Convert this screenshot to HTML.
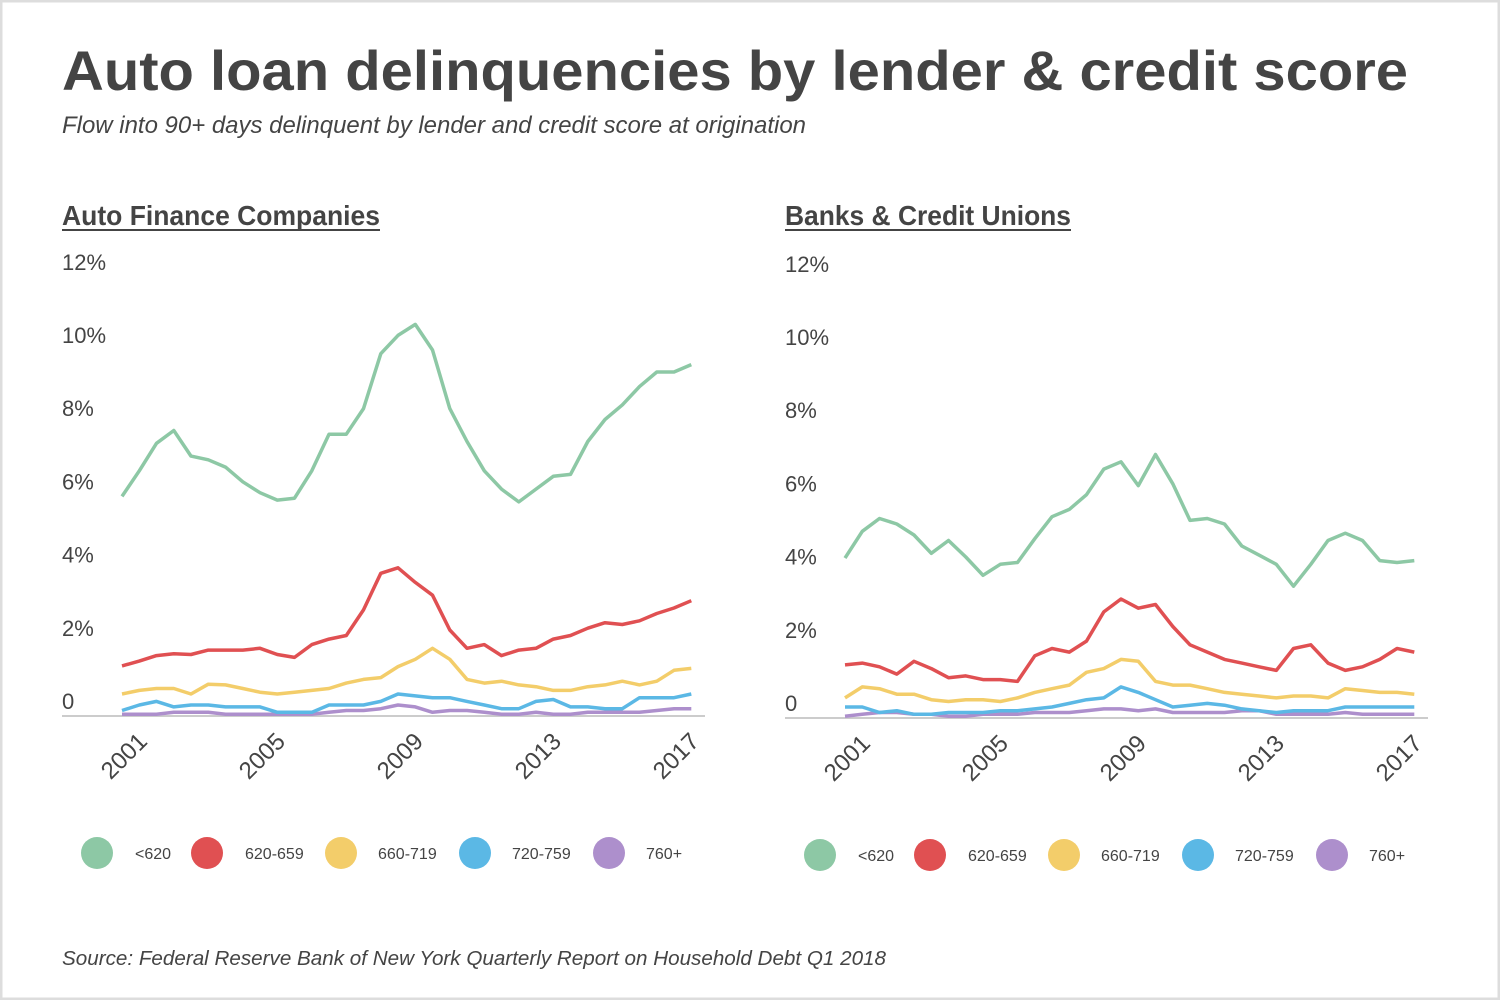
<!DOCTYPE html>
<html><head><meta charset="utf-8"><style>
html,body{margin:0;padding:0;background:#fff}
svg{display:block;font-family:"Liberation Sans",sans-serif}
</style></head><body>
<svg id="s" width="1500" height="1000" viewBox="0 0 1500 1000">
<rect x="1" y="1" width="1498" height="998" fill="#fff" stroke="#ddd" stroke-width="3"/>
<text x="62" y="90" font-size="56" font-weight="bold" fill="#444" textLength="1346" lengthAdjust="spacingAndGlyphs">Auto loan delinquencies by lender &amp; credit score</text>
<text x="62" y="133" font-size="24" font-style="italic" fill="#444" textLength="744" lengthAdjust="spacingAndGlyphs">Flow into 90+ days delinquent by lender and credit score at origination</text>
<text x="62" y="965" font-size="20" font-style="italic" fill="#444" textLength="824" lengthAdjust="spacingAndGlyphs">Source: Federal Reserve Bank of New York Quarterly Report on Household Debt Q1 2018</text>
</svg>
<script>
const years=[2001,2001.5,2002,2002.5,2003,2003.5,2004,2004.5,2005,2005.5,2006,2006.5,2007,2007.5,2008,2008.5,2009,2009.5,2010,2010.5,2011,2011.5,2012,2012.5,2013,2013.5,2014,2014.5,2015,2015.5,2016,2016.5,2017,2017.5];
const seriesNames=["<620","620-659","660-719","720-759","760+"];
const yTicks=[0,2,4,6,8,10,12];
const yTickLabels=["0","2%","4%","6%","8%","10%","12%"];
const xTicks=[2001,2005,2009,2013,2017];
const afcLow=[6.0,6.7,7.45,7.8,7.1,7.0,6.8,6.4,6.1,5.9,5.95,6.7,7.7,7.7,8.4,9.9,10.4,10.7,10.0,8.4,7.5,6.7,6.2,5.85,6.2,6.55,6.6,7.5,8.1,8.5,9.0,9.4,9.4,9.6];
const afc620=[1.37,1.5,1.65,1.7,1.68,1.8,1.8,1.8,1.85,1.68,1.6,1.95,2.1,2.2,2.9,3.9,4.05,3.65,3.3,2.35,1.85,1.95,1.65,1.8,1.85,2.1,2.2,2.4,2.55,2.5,2.6,2.8,2.95,3.15];
const afc660=[0.6,0.7,0.75,0.75,0.6,0.87,0.85,0.75,0.65,0.6,0.65,0.7,0.75,0.9,1.0,1.05,1.35,1.55,1.85,1.55,1.0,0.9,0.95,0.85,0.8,0.7,0.7,0.8,0.85,0.95,0.85,0.95,1.25,1.3];
const afc720=[0.15,0.3,0.4,0.25,0.3,0.3,0.25,0.25,0.25,0.1,0.1,0.1,0.3,0.3,0.3,0.4,0.6,0.55,0.5,0.5,0.4,0.3,0.2,0.2,0.4,0.45,0.25,0.25,0.2,0.2,0.5,0.5,0.5,0.6];
const afc760=[0.05,0.05,0.05,0.1,0.1,0.1,0.05,0.05,0.05,0.05,0.05,0.05,0.1,0.15,0.15,0.2,0.3,0.25,0.1,0.15,0.15,0.1,0.05,0.05,0.1,0.05,0.05,0.1,0.1,0.1,0.1,0.15,0.2,0.2];
const bankLow=[4.37,5.1,5.45,5.3,5.0,4.5,4.85,4.4,3.9,4.2,4.25,4.9,5.5,5.7,6.1,6.8,7.0,6.35,7.2,6.4,5.4,5.45,5.3,4.7,4.45,4.2,3.6,4.2,4.85,5.05,4.85,4.3,4.25,4.3];
const bank620=[1.45,1.5,1.4,1.2,1.55,1.35,1.1,1.15,1.05,1.05,1.0,1.7,1.9,1.8,2.1,2.9,3.25,3.0,3.1,2.5,2.0,1.8,1.6,1.5,1.4,1.3,1.9,2.0,1.5,1.3,1.4,1.6,1.9,1.8];
const bank660=[0.55,0.85,0.8,0.65,0.65,0.5,0.45,0.5,0.5,0.45,0.55,0.7,0.8,0.9,1.25,1.35,1.6,1.55,1.0,0.9,0.9,0.8,0.7,0.65,0.6,0.55,0.6,0.6,0.55,0.8,0.75,0.7,0.7,0.65];
const bank720=[0.3,0.3,0.15,0.2,0.1,0.1,0.15,0.15,0.15,0.2,0.2,0.25,0.3,0.4,0.5,0.55,0.85,0.7,0.5,0.3,0.35,0.4,0.35,0.25,0.2,0.15,0.2,0.2,0.2,0.3,0.3,0.3,0.3,0.3];
const bank760=[0.05,0.1,0.15,0.15,0.1,0.1,0.05,0.05,0.1,0.1,0.1,0.15,0.15,0.15,0.2,0.25,0.25,0.2,0.25,0.15,0.15,0.15,0.15,0.2,0.2,0.1,0.1,0.1,0.1,0.15,0.1,0.1,0.1,0.1];

const colors=["#8dc8a5","#e05052","#f3cd6a","#5bb8e5","#ad8fcc"];
const svg=document.getElementById('s');
const NS="http://www.w3.org/2000/svg";
function mk(tag,attrs,parent){const e=document.createElementNS(NS,tag);for(const k in attrs)e.setAttribute(k,attrs[k]);(parent||svg).appendChild(e);return e;}

function panel(ox,base,title,titleW,series,key){
  const g=mk('g',{});
  
  
  const x=t=>ox+60+(t-2001)*34.5;
  const y=v=>base-v*36.6;
  const tt=mk('text',{x:ox,y:225,'font-size':28,'font-weight':'bold',fill:'#444',textLength:titleW,lengthAdjust:'spacingAndGlyphs'},g);
  tt.textContent=title;
  
  
  const ul=mk('line',{x1:ox,x2:ox+titleW,y1:230,y2:230,stroke:'#444','stroke-width':2},g);
  
  
  yTicks.forEach((v,i)=>{
    const t=mk('text',{x:ox,y:y(v)-7,'font-size':22,fill:'#444'},g);
    t.textContent=yTickLabels[i];
    
    
  });
  const ax=mk('line',{x1:ox,x2:ox+643,y1:base,y2:base,stroke:'#ccc','stroke-width':2},g);
  
  
  xTicks.forEach(t=>{
    const cx=x(t)+2,cy=base+40;
    const tx=mk('text',{x:cx,y:cy+8,'font-size':24,fill:'#444','text-anchor':'middle',transform:`rotate(-45 ${cx} ${cy})`},g);
    tx.textContent=String(t);
    
    
  });
  for(let s=series.length-1;s>=0;s--){
    const d=series[s].map((v,i)=>(i?'L':'M')+x(years[i]).toFixed(1)+','+y(v).toFixed(1)).join(' ');
    const p=mk('path',{d:d,fill:'none',stroke:colors[s],'stroke-width':3.5,'stroke-linejoin':'round'},g);
    
    
  }
  const lx=[35,145,279,413,547],tx=[73,183,316,450,584];
  seriesNames.forEach((n,i)=>{
    const c=mk('circle',{cx:ox+lx[i],cy:base+137,r:16,fill:colors[i]},g);
    
    
    const t=mk('text',{x:ox+tx[i],y:base+143,'font-size':16,fill:'#444'},g);
    t.textContent=n;
    
    
  });
}
panel(62,716,"Auto Finance Companies",318,[afcLow,afc620,afc660,afc720,afc760],"auto-finance");
panel(785,718,"Banks & Credit Unions",286,[bankLow,bank620,bank660,bank720,bank760],"banks");
</script>
</body></html>
